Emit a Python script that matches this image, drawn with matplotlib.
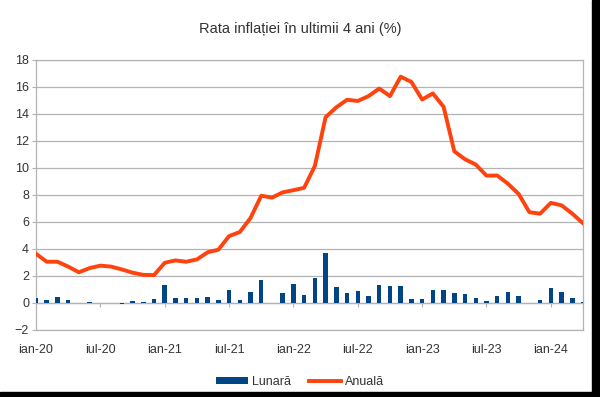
import matplotlib
matplotlib.use("Agg")
import matplotlib.pyplot as plt
from matplotlib.patches import Rectangle
import numpy as np

plt.rcParams["font.family"] = ["Liberation Sans", "DejaVu Sans"]

# ian-20 .. apr-24, one value per month
rata_lunara = [0.37, 0.22, 0.47, 0.22, 0.0, 0.10, 0.0, 0.03, -0.10, 0.15, 0.10, 0.30,
               1.33, 0.37, 0.37, 0.37, 0.47, 0.22, 0.94, 0.22, 0.81, 1.73, 0.0, 0.74,
               1.43, 0.57, 1.88, 3.70, 1.16, 0.72, 0.86, 0.54, 1.33, 1.26, 1.26, 0.30,
               0.30, 0.94, 0.94, 0.72, 0.64, 0.40, 0.15, 0.54, 0.79, 0.54, 0.0, 0.22,
               1.11, 0.79, 0.40, 0.05]
rata_anuala = [3.64, 3.05, 3.05, 2.69, 2.27, 2.58, 2.76, 2.69, 2.48, 2.24, 2.08, 2.06,
               2.97, 3.15, 3.05, 3.22, 3.75, 3.94, 4.95, 5.25, 6.29, 7.94, 7.80, 8.19,
               8.35, 8.53, 10.15, 13.76, 14.49, 15.05, 14.96, 15.32, 15.88, 15.32, 16.76, 16.37,
               15.07, 15.52, 14.53, 11.23, 10.64, 10.25, 9.43, 9.44, 8.83, 8.07, 6.72, 6.61,
               7.41, 7.23, 6.61, 5.90]
etichete_x = ["ian-20", "iul-20", "ian-21", "iul-21", "ian-22",
              "iul-22", "ian-23", "iul-23", "ian-24"]

gri = "#b3b3b3"
text_col = "#333333"

luni = np.arange(len(rata_anuala))

fig = plt.figure(figsize=(6.0, 3.97), dpi=100)
ax = fig.add_axes([0.06, 0.169, 0.9117, 0.68])

bare = ax.bar(luni, rata_lunara, width=0.42, color="#004586", label="Lunară", zorder=3)
linie, = ax.plot(luni, rata_anuala, color="#ff420e", lw=2.8, label="Anuală", zorder=4,
                 solid_joinstyle="round")

ax.set_xlim(0, len(luni) - 1)
ax.set_ylim(-2, 18)
ax.set_yticks(np.arange(-2, 19, 2))
ax.yaxis.grid(True, color=gri, lw=0.9, zorder=0)
ax.set_axisbelow(True)

for s in ax.spines.values():
    s.set_color(gri)
    s.set_linewidth(0.9)

ax.tick_params(axis="y", length=3, color=gri, labelsize=9, labelcolor=text_col, pad=2)
ax.set_xticks(luni[::6])
ax.set_xticklabels(etichete_x)
ax.tick_params(axis="x", length=0, labelsize=9, labelcolor=text_col, pad=10)

# zero line with its own small ticks
sec = ax.secondary_xaxis(2 / 20)
sec.set_xticks(luni[::6])
sec.set_xticklabels([])
sec.tick_params(axis="x", length=3, color=gri, direction="out")
sec.spines["bottom"].set_color(gri)
sec.spines["bottom"].set_linewidth(0.9)

fig.suptitle("Rata inflației în ultimii 4 ani (%)", y=0.945, fontsize=10.5,
             color=text_col)

fig.legend([bare, linie], ["Lunară", "Anuală"], loc="center",
           bbox_to_anchor=(0.5, 0.038), ncol=2, frameon=False,
           fontsize=9, handlelength=2.6, handleheight=0.5, handletextpad=0.3,
           columnspacing=1.4, labelcolor=text_col)

# dark frame on the right and bottom edges of the original image
fig.patches.append(Rectangle((592 / 600, 0), 8 / 600, 1, transform=fig.transFigure,
                             color="black", zorder=10))
fig.patches.append(Rectangle((0, 0), 1, 5 / 397, transform=fig.transFigure,
                             color="black", zorder=10))

fig.savefig("out.png", dpi=100)
